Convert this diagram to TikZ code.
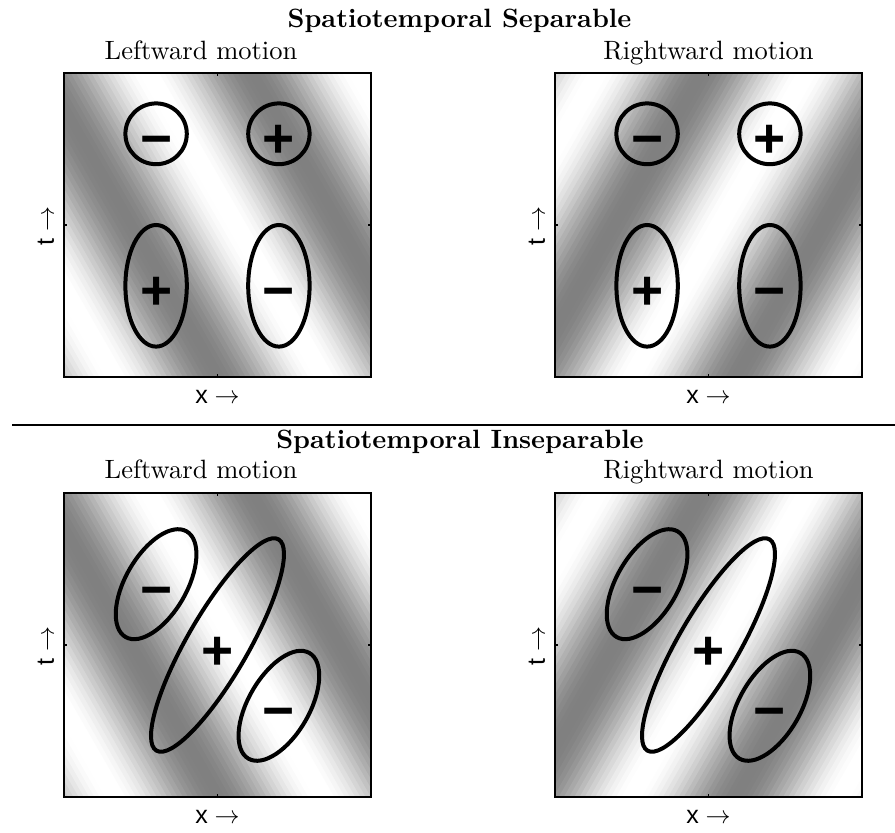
\documentclass[tikz,border=0pt]{standalone}
\usepackage{fontspec}
\newfontfamily\axisfont{Liberation Sans}
\newfontfamily\signfont{Liberation Sans}
\tikzset{
  ttl/.style={font=\fontsize{10.6}{12}\selectfont, anchor=base, inner sep=0pt},
  axislab/.style={font=\axisfont\fontsize{10}{12}\selectfont, inner sep=0pt},
  sgn/.style={font=\signfont\bfseries\fontsize{22}{24}\selectfont, anchor=base, inner sep=0pt},
  ell/.style={line width=1.6pt, black},
  frm/.style={line width=0.7pt, black},
  tck/.style={line width=0.5pt, black},
  sepline/.style={line width=0.8pt, black}
}
\begin{document}
\begin{tikzpicture}[x=0.4pt, y=-0.4pt]
\useasboundingbox (0,0) rectangle (895,833);
% leftward grating (left column)
\foreach \py in {73,493}{
  \begin{scope}
    \clip (64,\py) rectangle (371,\py+304);
    \foreach \k in {0,...,95}{
      \pgfmathsetmacro\sa{-0.02+\k*0.017}
      \pgfmathsetmacro\sb{\sa+0.021}
      \pgfmathsetmacro\g{min(1,0.755+0.255*cos(529.41*(\sa+0.0085-0.84)))}
      \definecolor{cc}{gray}{\g}
      \fill[cc] (64+307*\sa,\py+304) -- (64+307*\sb,\py+304)
        -- (64+307*\sb-175,\py) -- (64+307*\sa-175,\py) -- cycle;
    }
  \end{scope}
}
% rightward grating (right column)
\foreach \py in {73,493}{
  \begin{scope}
    \clip (555,\py) rectangle (862,\py+304);
    \foreach \k in {0,...,95}{
      \pgfmathsetmacro\sa{-0.6+\k*0.017}
      \pgfmathsetmacro\sb{\sa+0.021}
      \pgfmathsetmacro\g{min(1,0.755+0.255*cos(529.41*(\sa+0.0085-0.25)))}
      \definecolor{cc}{gray}{\g}
      \fill[cc] (555+307*\sa,\py+304) -- (555+307*\sb,\py+304)
        -- (555+307*\sb+175,\py) -- (555+307*\sa+175,\py) -- cycle;
    }
  \end{scope}
}
% frames and ticks
\foreach \px/\py/\nm in {64/73/a, 555/73/b, 64/493/c, 555/493/d}{
  \draw[frm] (\px,\py) rectangle (\px+307,\py+304);
  \draw[tck] (\px+153.5,\py) -- (\px+153.5,\py+3);
  \draw[tck] (\px+153.5,\py+304) -- (\px+153.5,\py+301);
  \draw[tck] (\px,\py+152) -- (\px+3,\py+152);
  \draw[tck] (\px+307,\py+152) -- (\px+304,\py+152);
  \node[axislab, anchor=base] (\nm-x) at (\px+153.5,\py+330) {x $\rightarrow$};
  \node[axislab, rotate=90] (\nm-t) at (\px-18,\py+153) {t $\rightarrow$};
}
% separable receptive fields
\foreach \px/\nm in {64/a, 555/b}{
  \draw[ell] (\px+92.1,133.8) ellipse [x radius=30.7, y radius=30.4];
  \draw[ell] (\px+214.9,133.8) ellipse [x radius=30.7, y radius=30.4];
  \draw[ell] (\px+92.1,285.8) ellipse [x radius=30.7, y radius=60.8];
  \draw[ell] (\px+214.9,285.8) ellipse [x radius=30.7, y radius=60.8];
  \node[sgn] (\nm-s1) at (\px+92.1,157.8) {−};
  \node[sgn] (\nm-s2) at (\px+214.9,157.8) {+};
  \node[sgn] (\nm-s3) at (\px+92.1,309.8) {+};
  \node[sgn] (\nm-s4) at (\px+214.9,309.8) {−};
}
% inseparable receptive fields
\foreach \px/\nm in {64/c, 555/d}{
  \draw[ell, rotate around={60:(\px+92.1,584.2)}] (\px+92.1,584.2) ellipse [x radius=61, y radius=30.5];
  \draw[ell, rotate around={60:(\px+153.5,645)}] (\px+153.5,645) ellipse [x radius=122, y radius=30.5];
  \draw[ell, rotate around={60:(\px+214.9,705.8)}] (\px+214.9,705.8) ellipse [x radius=61, y radius=30.5];
  \node[sgn] (\nm-s1) at (\px+92.1,608.2) {−};
  \node[sgn] (\nm-s2) at (\px+153.5,669) {+};
  \node[sgn] (\nm-s3) at (\px+214.9,729.8) {−};
}
% titles
\node[ttl] (h1) at (459.5,27) {\bfseries Spatiotemporal Separable};
\node[ttl] (l1) at (201,60) {Leftward motion};
\node[ttl] (r1) at (708.5,60) {Rightward motion};
\node[ttl] (h2) at (460,448) {\bfseries Spatiotemporal Inseparable};
\node[ttl] (l2) at (201,478) {Leftward motion};
\node[ttl] (r2) at (708.5,478) {Rightward motion};
% separator
\coordinate (sa) at (12,425);
\coordinate (sb) at (895,425);
\draw[sepline] (sa) -- (sb);
\end{tikzpicture}
\end{document}
